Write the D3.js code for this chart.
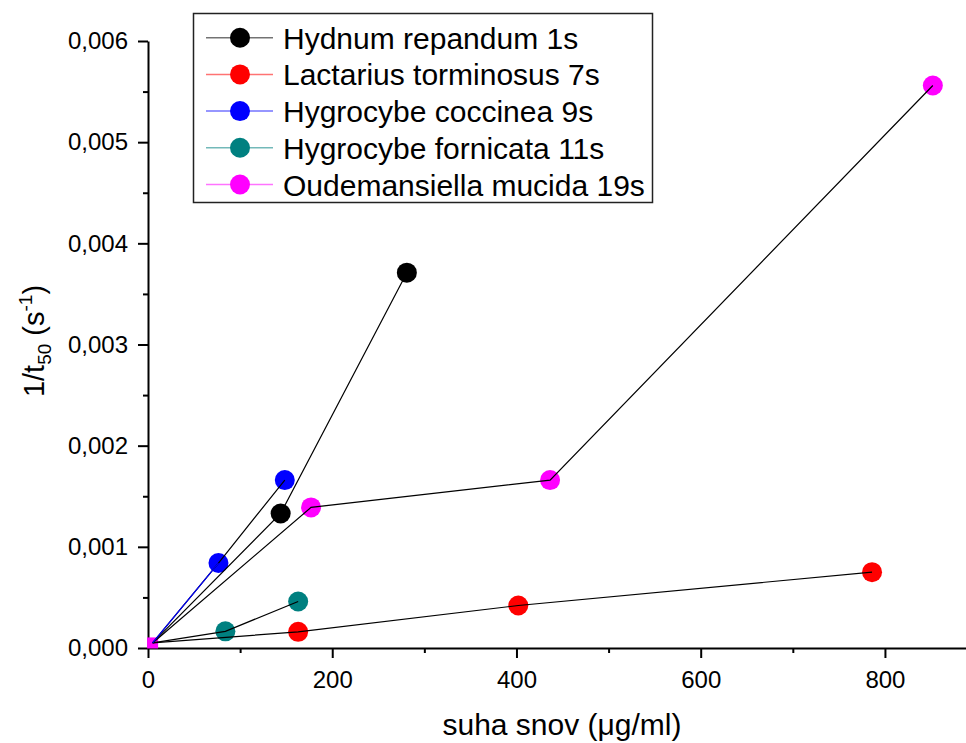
<!DOCTYPE html>
<html>
<head>
<meta charset="utf-8">
<script src="https://cdn.jsdelivr.net/npm/d3@7"></script>
<style>
  body { margin: 0; background: #fff; }
  svg { display: block; font-family: "Liberation Sans", Arial, sans-serif; }
</style>
</head>
<body>
<div id="wrapper"></div>
<script>
// series names (legend order) and their marker colours
const seriesNames = ["Hydnum repandum 1s", "Lactarius torminosus 7s", "Hygrocybe coccinea 9s",
                     "Hygrocybe fornicata 11s", "Oudemansiella mucida 19s"];
const seriesColors = ["#000000", "#ff0000", "#0000ff", "#008080", "#ff00ff"];

// x = suha snov (ug/ml), y = 1/t50 (1/s); every series starts at the same point
const hydnumX = [5, 144, 281];
const hydnumY = [0.00005, 0.00133, 0.00371];
const lactariusX = [5, 163, 402, 786];
const lactariusY = [0.00005, 0.00016, 0.00042, 0.00075];
const coccineaX = [5, 76.5, 148.5];
const coccineaY = [0.00005, 0.00084, 0.00166];
const fornicataX = [5, 84, 163];
const fornicataY = [0.00005, 0.000165, 0.00046];
const mucidaX = [5, 177, 436.5, 852];
const mucidaY = [0.00005, 0.00139, 0.00166, 0.00556];

const xTicks = [0, 200, 400, 600, 800];
const xMinorTicks = [100, 300, 500, 700];
const yTicks = [0, 0.001, 0.002, 0.003, 0.004, 0.005, 0.006];
const yMinorTicks = [0.0005, 0.0015, 0.0025, 0.0035, 0.0045, 0.0055];

const allX = [hydnumX, lactariusX, coccineaX, fornicataX, mucidaX];
const allY = [hydnumY, lactariusY, coccineaY, fornicataY, mucidaY];
const series = seriesNames.map((name, i) => ({
    name: name,
    color: seriesColors[i],
    points: allX[i].map((x, j) => ({x: x, y: allY[i][j]}))
}));

const width = 966, height = 743;
const svg = d3.select("#wrapper").append("svg")
    .attr("width", width)
    .attr("height", height);

const xScale = d3.scaleLinear().domain([0, 888]).range([148, 966]);
const yScale = d3.scaleLinear().domain([0, 0.006]).range([648, 41]);

// decimal comma for the y labels
const locale = d3.formatLocale({decimal: ",", thousands: ".", grouping: [3], currency: ["", ""]});
const yFormat = locale.format(".3f");

// minor ticks first, then the major axes over them
svg.append("g")
    .attr("transform", "translate(0,648)")
    .call(d3.axisBottom(xScale).tickValues(xMinorTicks).tickSize(5).tickSizeOuter(0).tickFormat(""))
    .call(g => g.select(".domain").remove());
svg.append("g")
    .attr("transform", "translate(148,0)")
    .call(d3.axisLeft(yScale).tickValues(yMinorTicks).tickSize(5).tickSizeOuter(0).tickFormat(""))
    .call(g => g.select(".domain").remove());

const xAxis = svg.append("g")
    .attr("transform", "translate(0,648)")
    .call(d3.axisBottom(xScale).tickValues(xTicks).tickSize(10).tickSizeOuter(0).tickPadding(13));
const yAxis = svg.append("g")
    .attr("transform", "translate(148,0)")
    .call(d3.axisLeft(yScale).tickValues(yTicks).tickSize(10).tickSizeOuter(0).tickPadding(10).tickFormat(yFormat));

svg.selectAll(".tick line").attr("stroke", "#000").attr("stroke-width", 2);
svg.selectAll(".domain").attr("stroke", "#000").attr("stroke-width", 2);
svg.selectAll(".tick text")
    .attr("fill", "#000")
    .style("font-family", "'Liberation Sans', Arial, sans-serif")
    .style("font-size", "24px");

// axis titles
svg.append("text")
    .attr("x", 562)
    .attr("y", 735)
    .attr("text-anchor", "middle")
    .style("font-size", "30px")
    .text("suha snov (\u03bcg/ml)");

const yTitle = svg.append("text")
    .attr("transform", "translate(44,341) rotate(-90)")
    .attr("text-anchor", "middle")
    .style("font-size", "29px");
yTitle.append("tspan").text("1/t");
yTitle.append("tspan").attr("dy", 7).style("font-size", "19px").text("50");
yTitle.append("tspan").attr("dy", -7).text(" (s");
yTitle.append("tspan").attr("dy", -12).style("font-size", "19px").text("-1");
yTitle.append("tspan").attr("dy", 12).text(")");

// markers
series.forEach(s => {
    svg.append("g")
        .selectAll("circle")
        .data(s.points.slice(1))
        .join("circle")
            .attr("cx", d => xScale(d.x))
            .attr("cy", d => yScale(d.y))
            .attr("r", 10)
            .attr("fill", s.color);
});

// shared start point shown as a small magenta square
const start = series[4].points[0];
svg.append("rect")
    .attr("x", xScale(start.x) - 5.5)
    .attr("y", yScale(start.y) - 5.5)
    .attr("width", 11)
    .attr("height", 11)
    .attr("fill", "#ff00ff");

// connecting lines, drawn over the markers
const line = d3.line()
    .x(d => xScale(d.x))
    .y(d => yScale(d.y));

series.forEach(s => {
    svg.append("path")
        .datum(s.points)
        .attr("d", line)
        .attr("fill", "none")
        .attr("stroke", "#000")
        .attr("stroke-width", 1.2);
});
// first segment of H. coccinea is blue
svg.append("path")
    .datum(series[2].points.slice(0, 2))
    .attr("d", line)
    .attr("fill", "none")
    .attr("stroke", "#0000ff")
    .attr("stroke-width", 1.2);

// legend
const legend = svg.append("g");
legend.append("rect")
    .attr("x", 193.5)
    .attr("y", 13.5)
    .attr("width", 459)
    .attr("height", 189)
    .attr("fill", "#fff")
    .attr("stroke", "#222")
    .attr("stroke-width", 1.5);

const rows = legend.selectAll(".row")
    .data(series)
    .join("g")
        .attr("class", "row")
        .attr("transform", (d, i) => `translate(0,${37.7 + i * 36.7})`);
rows.append("line")
    .attr("x1", 206).attr("x2", 273)
    .attr("stroke", d => d.color)
    .attr("stroke-opacity", 0.55)
    .attr("stroke-width", 1.5);
rows.append("circle")
    .attr("cx", 240)
    .attr("r", 10)
    .attr("fill", d => d.color);
rows.append("text")
    .attr("x", 283)
    .attr("y", 11)
    .style("font-size", "30px")
    .text(d => d.name);
</script>
</body>
</html>
